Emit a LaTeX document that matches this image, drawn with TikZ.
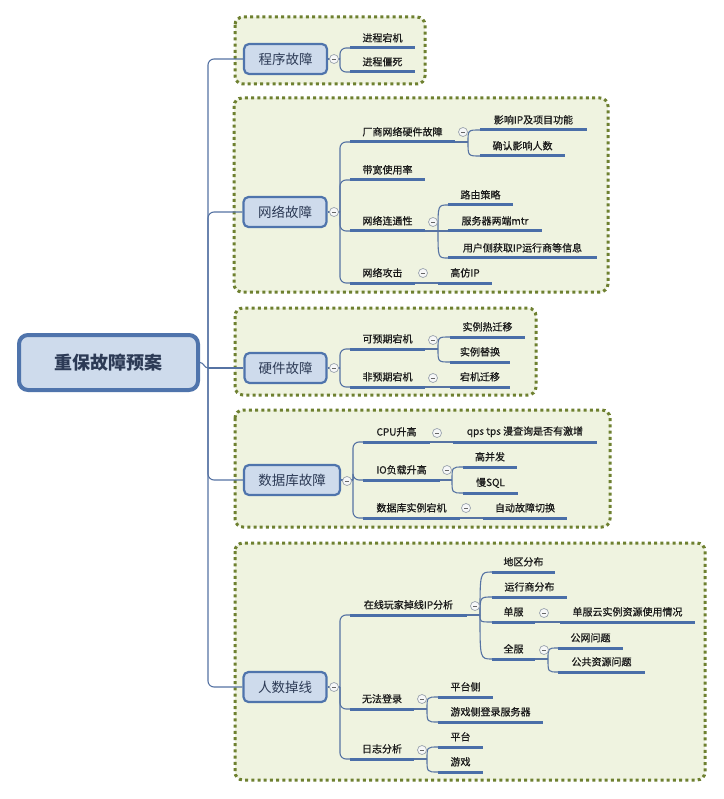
\documentclass[tikz,border=0pt]{standalone}
\usepackage{fontspec}
\setmainfont{Noto Sans CJK SC}
\newfontfamily\leaffont{Noto Sans CJK SC}[FakeBold=0.7]
\usetikzlibrary{calc}
\definecolor{ulblue}{HTML}{4A6EA8}
\definecolor{lnblue}{HTML}{5673A3}
\definecolor{nodefill}{HTML}{CEDBEC}
\definecolor{nodeborder}{HTML}{4F74AC}
\definecolor{boxfill}{HTML}{EFF3E0}
\definecolor{boxline}{HTML}{6E8030}
\definecolor{txt}{HTML}{1A1A1A}
\definecolor{maintxt}{HTML}{2C3A55}
\definecolor{togline}{HTML}{9AA3AD}
\definecolor{togfill}{HTML}{F6F7F8}
\tikzset{
 grp/.style={draw=boxline, fill=boxfill, line width=3pt, dash pattern=on 3pt off 3.2pt, rounded corners=8pt},
 rootnode/.style={draw=nodeborder, fill=nodefill, line width=4pt, rounded corners=9pt, text=maintxt, font=\bfseries\fontsize{18}{20}\selectfont, inner sep=0pt, minimum width=179pt, minimum height=55pt},
 mainnode/.style={draw=nodeborder, fill=nodefill, line width=2.2pt, rounded corners=5pt, text=maintxt, font=\fontsize{13.5}{15}\selectfont, inner sep=0pt, minimum height=30pt},
 leaf/.style={anchor=south, minimum height=20pt, inner sep=0pt, text=txt, font=\leaffont\fontsize{10}{12}\selectfont},
 uline/.style={draw=ulblue, line width=3pt},
 conn/.style={draw=lnblue, line width=1.1pt},
 rc/.style={rounded corners=6pt},
 tog/.style={circle, draw=togline, fill=togfill, line width=0.7pt, minimum size=9pt, inner sep=0pt,
   path picture={\draw[gray!80!black, line width=0.7pt] ([xshift=-2.2pt]path picture bounding box.center) -- ([xshift=2.2pt]path picture bounding box.center);}},
}
\newcommand{\leafnode}[5]{%
  \node[leaf, minimum width={(#3)-(#2)}] (#1) at ({((#2)+(#3))/2},#4) {#5};%
  \draw[uline] (#1.south west) -- (#1.south east);}
\begin{document}
\begin{tikzpicture}[x=1pt,y=-1pt]
\useasboundingbox[fill=white] (0,0) rectangle (723,799);
% group boxes
\draw[grp] (235,17) rectangle (425,84);
\draw[grp] (234,98) rectangle (608,292);
\draw[grp] (235,308) rectangle (536,395);
\draw[grp] (235,410) rectangle (610,527);
\draw[grp] (235,543) rectangle (705,780);

% root and main nodes
\node[rootnode] (root) at (108.5,362.5) {重保故障预案};
\node[mainnode, minimum width=83pt] (prog) at (285.5,59) {程序故障};
\node[mainnode, minimum width=83pt] (net) at (285,212) {网络故障};
\node[mainnode, minimum width=82pt] (hw) at (285.5,368) {硬件故障};
\node[mainnode, minimum width=96pt] (db) at (292,480) {数据库故障};
\node[mainnode, minimum width=83pt] (ppl) at (285,687) {人数掉线};

\coordinate (trunk) at (208,368);
\draw[conn] (root.east) to[out=0,in=180] (trunk);
\draw[conn,rc] (trunk) |- (prog.west);
\draw[conn,rc] (trunk) |- (net.west);
\draw[conn] (trunk) -- (hw.west);
\draw[conn,rc] (trunk) |- (db.west);
\draw[conn,rc] (trunk) |- (ppl.west);

% leaves
\leafnode{p1}{350}{415}{48}{进程宕机}
\leafnode{p2}{350}{415}{72}{进程僵死}

\leafnode{n1}{350}{455}{142}{厂商网络硬件故障}
\leafnode{n11}{480}{587}{130}{影响IP及项目功能}
\leafnode{n12}{480}{565}{156}{确认影响人数}
\leafnode{n2}{350}{425}{180}{带宽使用率}
\leafnode{n3}{350}{425}{231}{网络连通性}
\leafnode{n31}{448}{513}{205}{路由策略}
\leafnode{n32}{448}{542}{231}{服务器两端mtr}
\leafnode{n33}{448}{597}{258}{用户侧获取IP运行商等信息}
\leafnode{n4}{350}{415}{283}{网络攻击}
\leafnode{n41}{438}{492}{283}{高仿IP}

\leafnode{h1}{350}{425}{349}{可预期宕机}
\leafnode{h11}{450}{525}{337}{实例热迁移}
\leafnode{h12}{450}{510}{362}{实例替换}
\leafnode{h2}{350}{425}{387}{非预期宕机}
\leafnode{h21}{450}{510}{387}{宕机迁移}

\leafnode{d1}{363}{430}{442}{CPU升高}
\leafnode{d11}{453}{597}{442}{qps tps 漫查询是否有激增}
\leafnode{d2}{363}{440}{480}{IO负载升高}
\leafnode{d21}{463}{517}{467}{高并发}
\leafnode{d22}{463}{518}{493}{慢SQL}
\leafnode{d3}{363}{460}{518}{数据库实例宕机}
\leafnode{d31}{483}{567}{518}{自动故障切换}

\leafnode{r1}{350}{467}{615}{在线玩家掉线IP分析}
\leafnode{r11}{492}{555}{572}{地区分布}
\leafnode{r12}{492}{567}{597}{运行商分布}
\leafnode{r13}{492}{535}{622}{单服}
\leafnode{r131}{560}{695}{622}{单服云实例资源使用情况}
\leafnode{r14}{492}{535}{659}{全服}
\leafnode{r141}{558}{623}{648}{公网问题}
\leafnode{r142}{558}{645}{672}{公共资源问题}
\leafnode{r2}{350}{414}{709}{无法登录}
\leafnode{r21}{438}{493}{697}{平台侧}
\leafnode{r22}{438}{543}{722}{游戏侧登录服务器}
\leafnode{r3}{350}{414}{759}{日志分析}
\leafnode{r31}{438}{483}{747}{平台}
\leafnode{r32}{438}{483}{772}{游戏}

% branch points
\coordinate (pb) at (340,59);
\coordinate (nb) at (340,212);
\coordinate (n1b) at (468,142);
\coordinate (n3b) at (438,231);
\coordinate (hb) at (340,368);
\coordinate (h1b) at (438,349);
\coordinate (dbb) at (353,480);
\coordinate (d2b) at (452,480);
\coordinate (rb) at (340,687);
\coordinate (r1b) at (480,615);
\coordinate (r14b) at (548,659);
\coordinate (r2b) at (427,709);
\coordinate (r3b) at (427,759);

% box 1
\draw[conn] (prog.east) -- (pb);
\draw[conn,rc] (pb) |- (p1.south west);
\draw[conn,rc] (pb) |- (p2.south west);
% box 2
\draw[conn] (net.east) -- (nb);
\foreach \c in {n1,n2,n3,n4} \draw[conn,rc] (nb) |- (\c.south west);
\draw[conn] (n1.south east) -- (n1b);
\draw[conn] (n1b) .. controls (n1b |- n11.south west) .. (n11.south west);
\draw[conn] (n1b) .. controls (n1b |- n12.south west) .. (n12.south west);
\draw[conn] (n3.south east) -- (n3b);
\draw[conn] (n3b) .. controls (n3b |- n31.south west) .. (n31.south west);
\draw[conn] (n3b) -- (n32.south west);
\draw[conn] (n3b) .. controls (n3b |- n33.south west) .. (n33.south west);
\draw[conn] (n4.south east) -- (n41.south west);
% box 3
\draw[conn] (hw.east) -- (hb);
\draw[conn,rc] (hb) |- (h1.south west);
\draw[conn,rc] (hb) |- (h2.south west);
\draw[conn] (h1.south east) -- (h1b);
\draw[conn] (h1b) .. controls (h1b |- h11.south west) .. (h11.south west);
\draw[conn] (h1b) .. controls (h1b |- h12.south west) .. (h12.south west);
\draw[conn] (h2.south east) -- (h21.south west);
% box 4
\draw[conn] (db.east) -- (dbb);
\foreach \c in {d1,d2,d3} \draw[conn,rc] (dbb) |- (\c.south west);
\draw[conn] (d1.south east) -- (d11.south west);
\draw[conn] (d2.south east) -- (d2b);
\draw[conn] (d2b) .. controls (d2b |- d21.south west) .. (d21.south west);
\draw[conn] (d2b) .. controls (d2b |- d22.south west) .. (d22.south west);
\draw[conn] (d3.south east) -- (d31.south west);
% box 5
\draw[conn] (ppl.east) -- (rb);
\foreach \c in {r1,r2,r3} \draw[conn,rc] (rb) |- (\c.south west);
\draw[conn] (r1.south east) -- (r1b);
\foreach \c in {r11,r12,r13,r14} \draw[conn] (r1b) .. controls (r1b |- \c.south west) .. (\c.south west);
\draw[conn] (r13.south east) -- (r131.south west);
\draw[conn] (r14.south east) -- (r14b);
\draw[conn] (r14b) .. controls (r14b |- r141.south west) .. (r141.south west);
\draw[conn] (r14b) .. controls (r14b |- r142.south west) .. (r142.south west);
\draw[conn] (r2.south east) -- (r2b);
\draw[conn] (r2b) .. controls (r2b |- r21.south west) .. (r21.south west);
\draw[conn] (r2b) .. controls (r2b |- r22.south west) .. (r22.south west);
\draw[conn] (r3.south east) -- (r3b);
\draw[conn] (r3b) .. controls (r3b |- r31.south west) .. (r31.south west);
\draw[conn] (r3b) .. controls (r3b |- r32.south west) .. (r32.south west);

% collapse toggles
\node[tog] (tp) at (334,59) {};
\node[tog] (tn) at (334,212) {};
\node[tog] (tn1) at (463,132) {};
\node[tog] (tn3) at (433,222) {};
\node[tog] (tn4) at (423,273) {};
\node[tog] (th) at (334,368) {};
\node[tog] (th1) at (433,340) {};
\node[tog] (th2) at (433,378) {};
\node[tog] (td) at (347,481) {};
\node[tog] (td1) at (437,433) {};
\node[tog] (td2) at (447,470) {};
\node[tog] (td3) at (466,508) {};
\node[tog] (tr) at (334,687) {};
\node[tog] (tr1) at (475,606) {};
\node[tog] (tr13) at (544,613) {};
\node[tog] (tr14) at (544,650) {};
\node[tog] (tr2) at (422,699) {};
\node[tog] (tr3) at (422,750) {};
\end{tikzpicture}
\end{document}
